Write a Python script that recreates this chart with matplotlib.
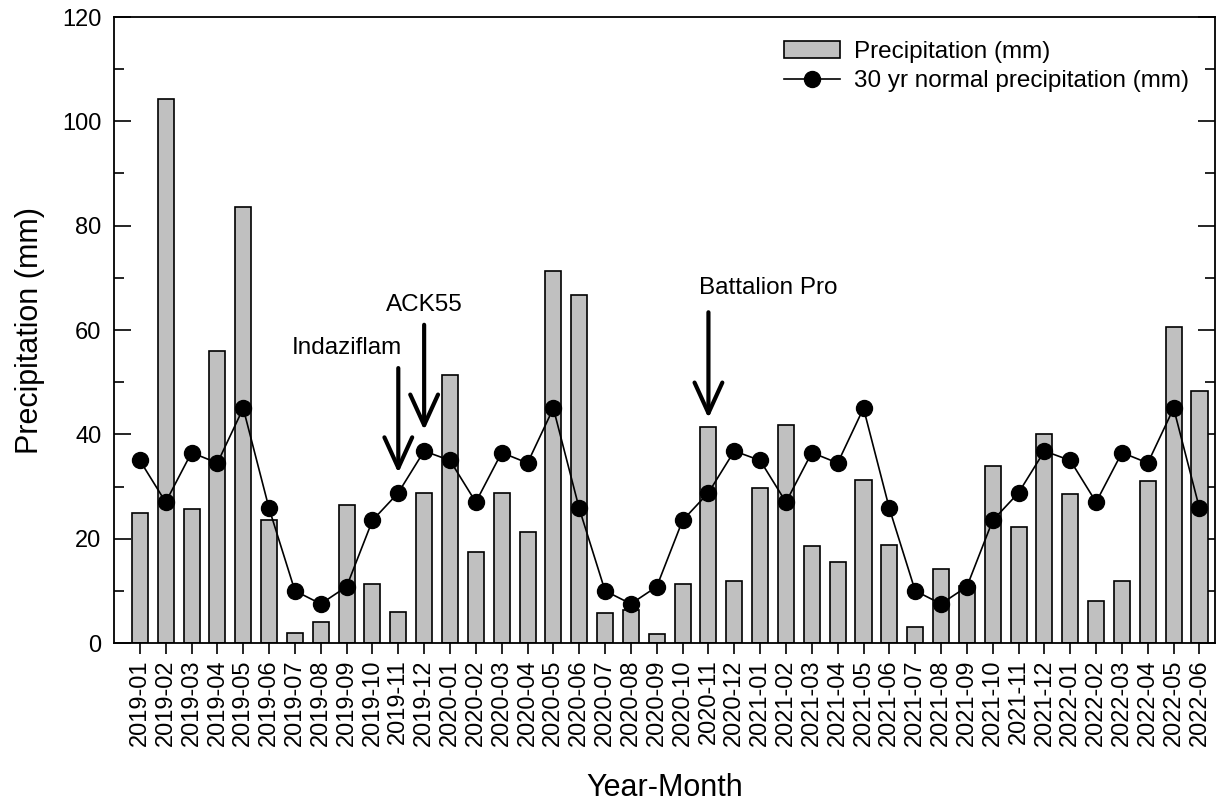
import matplotlib
matplotlib.use("Agg")
import matplotlib.pyplot as plt
from matplotlib.ticker import MultipleLocator

plt.rcParams['font.family'] = ['Liberation Sans', 'DejaVu Sans']

months = ["2019-01", "2019-02", "2019-03", "2019-04", "2019-05", "2019-06",
          "2019-07", "2019-08", "2019-09", "2019-10", "2019-11", "2019-12",
          "2020-01", "2020-02", "2020-03", "2020-04", "2020-05", "2020-06",
          "2020-07", "2020-08", "2020-09", "2020-10", "2020-11", "2020-12",
          "2021-01", "2021-02", "2021-03", "2021-04", "2021-05", "2021-06",
          "2021-07", "2021-08", "2021-09", "2021-10", "2021-11", "2021-12",
          "2022-01", "2022-02", "2022-03", "2022-04", "2022-05", "2022-06"]

precip = [25.0, 104.2, 25.7, 56.0, 83.5, 23.5, 2.0, 4.0, 26.5, 11.3, 6.0, 28.8,
          51.3, 17.5, 28.8, 21.3, 71.3, 66.7, 5.8, 6.3, 1.8, 11.3, 41.5, 11.9,
          29.8, 41.8, 18.6, 15.5, 31.3, 18.8, 3.0, 14.2, 11.0, 34.0, 22.3, 40.1,
          28.5, 8.0, 11.8, 31.1, 60.5, 48.3]

normal = [35.0, 27.0, 36.5, 34.5, 45.0, 25.8, 10.0, 7.5, 10.8, 23.5, 28.8, 36.8,
          35.0, 27.0, 36.5, 34.5, 45.0, 25.8, 10.0, 7.5, 10.8, 23.5, 28.8, 36.8,
          35.0, 27.0, 36.5, 34.5, 45.0, 25.8, 10.0, 7.5, 10.8, 23.5, 28.8, 36.8,
          35.0, 27.0, 36.5, 34.5, 45.0, 25.8]

annot_labels = ["Indaziflam", "ACK55", "Battalion Pro"]
annot_months = ["2019-11", "2019-12", "2020-11"]
annot_arrow_top = [52.7, 61.0, 63.4]
annot_arrow_tip = [32.6, 40.8, 43.1]
annot_text_y = [56.5, 64.8, 68.0]
annot_text_dx = [-2.0, 0.0, 2.3]

fig = plt.figure(figsize=(12.27, 8.05), dpi=100)
ax = fig.add_axes([114/1227, 1-643/805, (1215-114)/1227, (643-17)/805])

x = list(range(len(months)))
bars = ax.bar(x, precip, width=0.62, color="#c0c0c0", edgecolor="black", linewidth=1.2,
              label="Precipitation (mm)", zorder=2)
line, = ax.plot(x, normal, color="black", linewidth=1.2, marker="o", markersize=11.5,
                label="30 yr normal precipitation (mm)", zorder=3)

for lab, m, top, tip, ty, dx in zip(annot_labels, annot_months, annot_arrow_top,
                                     annot_arrow_tip, annot_text_y, annot_text_dx):
    i = months.index(m)
    ax.annotate("", xy=(i, tip), xytext=(i, top),
                arrowprops=dict(arrowstyle="->,head_length=2.2,head_width=1.0",
                                color="black", lw=3, shrinkA=0, shrinkB=0), zorder=4)
    ax.text(i + dx, ty, lab, ha="center", va="center", fontsize=17.5)

ax.set_xlim(-1, 41.6)
ax.set_ylim(0, 120)
ax.set_xticks(x)
ax.set_xticklabels(months, rotation=90, fontsize=17)
ax.yaxis.set_major_locator(MultipleLocator(20))
ax.yaxis.set_minor_locator(MultipleLocator(10))
ax.tick_params(axis="y", which="major", direction="in", length=12, width=1.2,
               labelsize=17, right=True, pad=9)
ax.tick_params(axis="y", which="minor", direction="in", length=7, width=1.2, right=True)
ax.tick_params(axis="x", which="major", direction="out", length=8, width=1.2, pad=4)
for s in ax.spines.values():
    s.set_linewidth(1.3)

ax.set_ylabel("Precipitation (mm)", fontsize=22, labelpad=12)
ax.set_xlabel("Year-Month", fontsize=22, labelpad=19)

ax.legend(handles=[bars, line], loc="upper right", bbox_to_anchor=(0.99, 0.985),
          frameon=False, fontsize=17.5,
          handlelength=2.3, handleheight=0.7, labelspacing=0.3, handletextpad=0.6,
          borderaxespad=0.2)

fig.savefig("out.png", dpi=100)
